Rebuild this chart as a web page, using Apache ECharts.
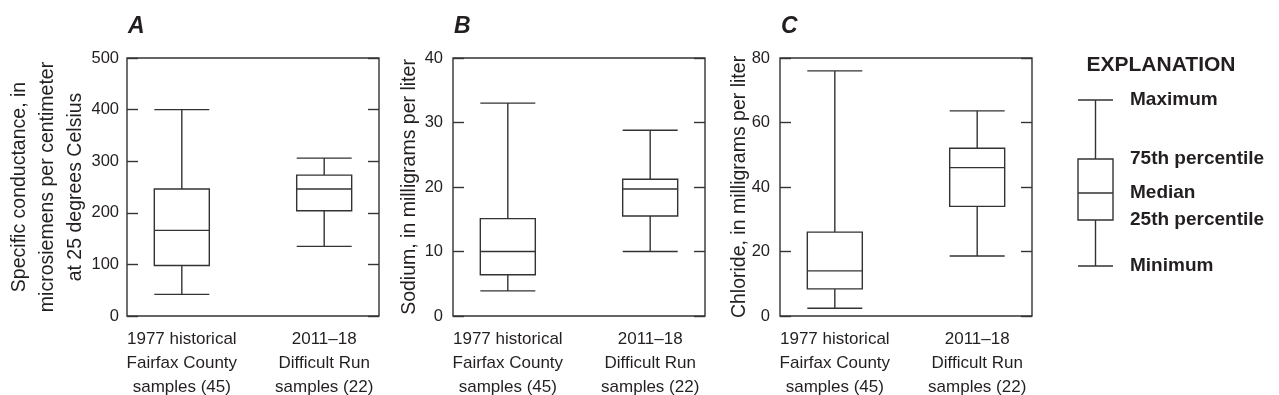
<!DOCTYPE html>
<html>
<head>
<meta charset="utf-8">
<script src="https://cdn.jsdelivr.net/npm/echarts@6/dist/echarts.min.js"></script>
<style>
html,body{margin:0;padding:0;background:#fff;}
#chart{width:1279px;height:395px;}
</style>
</head>
<body>
<div id="chart"></div>
<script>
// ---- data ----
var categories = ['1977 historical\nFairfax County\nsamples (45)', '2011\u201318\nDifficult Run\nsamples (22)'];
var categoryPositions = [1, 2];
// [min, 25th, median, 75th, max]
var conductance = [[42, 98, 166, 246, 400], [135, 204, 246, 273, 306]];
var sodium = [[3.9, 6.4, 10, 15.1, 33], [10, 15.5, 19.7, 21.2, 28.8]];
var chloride = [[2.4, 8.4, 14, 26, 76], [18.6, 34, 46, 52, 63.6]];
var panelLetters = ['A', 'B', 'C'];
var yNames = ['Specific conductance, in\nmicrosiemens per centimeter\nat 25 degrees Celsius',
  'Sodium, in milligrams per liter', 'Chloride, in milligrams per liter'];
var yMax = [500, 40, 80];
var yInterval = [100, 10, 20];
// explanation schematic: [min, 25th, median, 75th, max]
var legendBox = [0, 46, 73, 107, 166];
var legendLabels = ['Minimum', '25th percentile', 'Median', '75th percentile', 'Maximum'];

var INK = '#231f20';
var LINE = '#333333';
var regular = '"Liberation Sans", Arial, sans-serif';

var gridLefts = [127, 453, 780];
var nameGaps = [37.5, 29, 26];
var labelMargins = [8, 10, 10];
var panelData = [conductance, sodium, chloride];

var grids = [], xAxes = [], yAxes = [], series = [], titles = [];
for (var i = 0; i < 3; i++) {
  grids.push({left: gridLefts[i], top: 58, width: 252, height: 258, show: true,
    containLabel: false, outerBoundsMode: 'none',
    borderColor: LINE, borderWidth: 1.4, backgroundColor: 'transparent'});
  xAxes.push({type: 'value', gridIndex: i, min: 0.615, max: 2.385,
    axisLine: {show: false}, axisTick: {show: false}, splitLine: {show: false},
    axisLabel: {customValues: categoryPositions, margin: 11, color: INK,
      fontFamily: regular, fontSize: 17, lineHeight: 24,
      formatter: function (v) { return categories[Math.round(v) - 1] || ''; }}});
  yAxes.push({type: 'value', gridIndex: i, min: 0, max: yMax[i], interval: yInterval[i],
    name: yNames[i], nameLocation: 'middle', nameGap: nameGaps[i], nameMoveOverlap: false,
    nameTextStyle: {fontFamily: regular, fontSize: 19.5, lineHeight: 28, color: INK},
    axisLine: {show: false}, splitLine: {show: false},
    axisTick: {show: true, inside: true, length: 11, lineStyle: {color: LINE, width: 1.4}},
    axisLabel: {margin: labelMargins[i], color: INK, fontFamily: regular, fontSize: 16.5}});
  yAxes.push({type: 'value', gridIndex: i, position: 'right', min: 0, max: yMax[i], interval: yInterval[i],
    axisLine: {show: false}, splitLine: {show: false}, axisLabel: {show: false},
    axisTick: {show: true, inside: true, length: 11, lineStyle: {color: LINE, width: 1.4}}});
  series.push({type: 'boxplot', xAxisIndex: i, yAxisIndex: 2 * i, boxWidth: [55, 55],
    silent: true,
    itemStyle: {color: 'transparent', borderColor: LINE, borderWidth: 1.4},
    data: panelData[i].map(function (d, k) { return [categoryPositions[k]].concat(d); })});
  titles.push({text: panelLetters[i], left: gridLefts[i] + 1, top: 15, padding: 0,
    textStyle: {fontFamily: regular, fontSize: 23, fontWeight: 'bold', fontStyle: 'italic', color: INK}});
}
// explanation grid
grids.push({left: 1078, top: 100, width: 35, height: 166, show: false,
  containLabel: false, outerBoundsMode: 'none'});
xAxes.push({type: 'value', gridIndex: 3, min: 0.5, max: 1.5, show: false});
yAxes.push({type: 'value', gridIndex: 3, min: 0, max: 166, position: 'right',
  axisLine: {show: false}, axisTick: {show: false}, splitLine: {show: false},
  axisLabel: {customValues: legendBox, margin: 17, color: INK, fontFamily: regular,
    fontSize: 19, fontWeight: 'bold',
    formatter: function (v) { var k = legendBox.indexOf(v); return k >= 0 ? legendLabels[k] : ''; }}});
series.push({type: 'boxplot', xAxisIndex: 3, yAxisIndex: 6, boxWidth: [35, 35], silent: true,
  itemStyle: {color: 'transparent', borderColor: LINE, borderWidth: 1.4},
  data: [[1].concat(legendBox)]});
titles.push({text: 'EXPLANATION', left: 1161, textAlign: 'center', top: 55, padding: 0,
  textStyle: {fontFamily: regular, fontSize: 21, fontWeight: 'bold', color: INK}});

var chart = echarts.init(document.getElementById('chart'), null, {renderer: 'canvas'});
chart.setOption({
  animation: false,
  backgroundColor: '#fff',
  title: titles,
  tooltip: {show: false},
  grid: grids,
  xAxis: xAxes,
  yAxis: yAxes,
  series: series
});
</script>
</body>
</html>
